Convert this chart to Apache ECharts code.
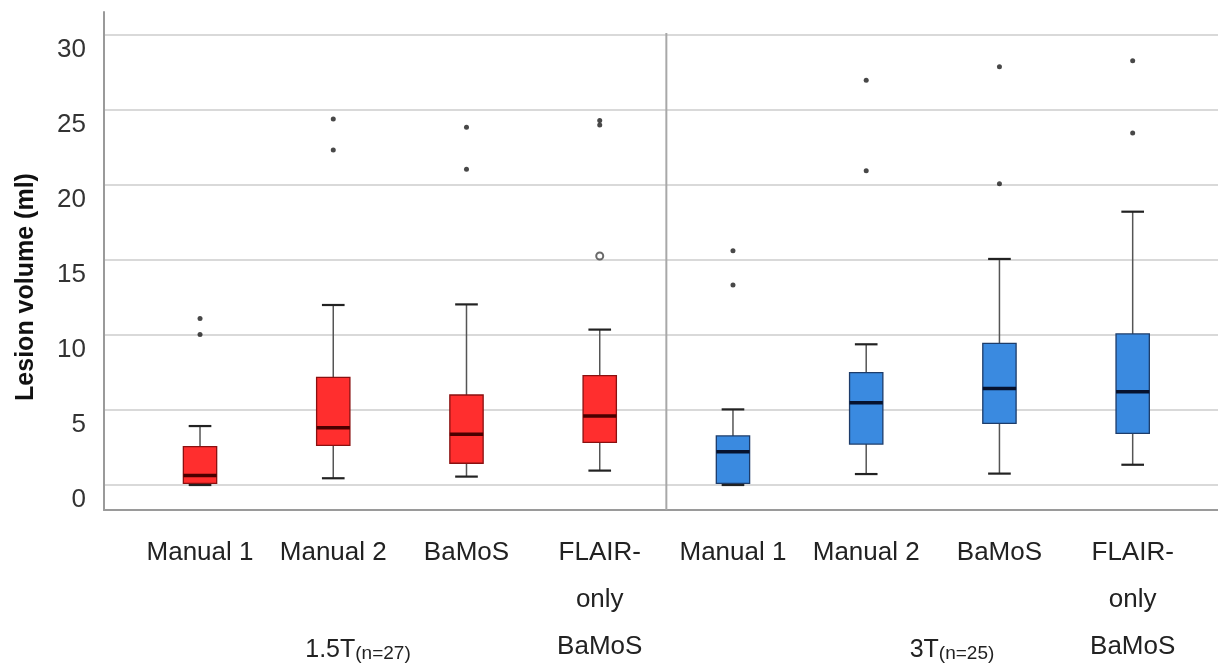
<!DOCTYPE html>
<html><head><meta charset="utf-8">
<script src="https://cdn.jsdelivr.net/npm/echarts@6/dist/echarts.min.js"></script>
<style>html,body{margin:0;padding:0;background:#fff}#c{width:1218px;height:663px}</style>
</head><body><div id="c"></div>
<script>
const categories = ['Manual 1','Manual 2','BaMoS','FLAIR-\nonly\nBaMoS','Manual 1','Manual 2','BaMoS','FLAIR-\nonly\nBaMoS'];
const yTicks = [0,5,10,15,20,25,30];
// [category index, min, Q1, median, Q3, max]
const boxes15T = [
  [0, 0.00, 0.11, 0.64, 2.56, 3.93],
  [1, 0.45, 2.64, 3.82, 7.18, 12.00],
  [2, 0.56, 1.45, 3.38, 6.00, 12.04],
  [3, 0.96, 2.84, 4.60, 7.29, 10.36]
];
const boxes3T = [
  [4, 0.00, 0.11, 2.22, 3.27, 5.04],
  [5, 0.73, 2.73, 5.49, 7.49, 9.38],
  [6, 0.76, 4.11, 6.44, 9.44, 15.07],
  [7, 1.35, 3.44, 6.22, 10.07, 18.22]
];
const extremes = [[0,11.1],[0,10.04],[1,24.4],[1,22.33],[2,23.85],[2,21.05],[3,24.3],[3,24.0],
  [4,15.62],[4,13.33],[5,26.98],[5,20.95],[6,27.89],[6,20.09],[7,28.29],[7,23.47]];
const outliers = [[3,15.27]];
const separatorAfter = [3];
const groupLabels = [['1.5T','(n=27)'],['3T','(n=25)']];
const yTitle = 'Lesion volume (ml)';

function makeRender(fill, stroke, medianColor){
  return function(params, api){
    const i = api.value(0);
    const pMin = api.coord([i, api.value(1)]);
    const pQ1 = api.coord([i, api.value(2)]);
    const pMed = api.coord([i, api.value(3)]);
    const pQ3 = api.coord([i, api.value(4)]);
    const pMax = api.coord([i, api.value(5)]);
    const band = api.size([1,0])[0];
    const bw = band*0.25, cw = band*0.17;
    const x = pMed[0];
    return {type:'group', children:[
      {type:'line', shape:{x1:x,y1:pQ3[1],x2:x,y2:pMax[1]}, style:{stroke:'#555',lineWidth:1.5}},
      {type:'line', shape:{x1:x,y1:pQ1[1],x2:x,y2:pMin[1]}, style:{stroke:'#555',lineWidth:1.5}},
      {type:'line', shape:{x1:x-cw/2,y1:pMax[1],x2:x+cw/2,y2:pMax[1]}, style:{stroke:'#222',lineWidth:2.2}},
      {type:'line', shape:{x1:x-cw/2,y1:pMin[1],x2:x+cw/2,y2:pMin[1]}, style:{stroke:'#222',lineWidth:2.2}},
      {type:'rect', shape:{x:x-bw/2,y:pQ3[1],width:bw,height:pQ1[1]-pQ3[1]}, style:{fill:fill, stroke:stroke, lineWidth:1.3}},
      {type:'line', shape:{x1:x-bw/2,y1:pMed[1],x2:x+bw/2,y2:pMed[1]}, style:{stroke:medianColor,lineWidth:3.5}}
    ]};
  };
}

function renderSeparator(params, api){
  const i = api.value(0);
  const a = api.coord([i, 0])[0];
  const b = api.coord([i + 1, 0])[0];
  const x = (a + b) / 2;
  const cs = params.coordSys;
  return {type:'line', shape:{x1:x, y1:cs.y, x2:x, y2:cs.y + cs.height}, style:{stroke:'#a8a8a8', lineWidth:2}};
}

const chart = echarts.init(document.getElementById('c'));
chart.setOption({
  animation:false,
  backgroundColor:'#fff',
  textStyle:{fontFamily:'Liberation Sans, Arial, sans-serif'},
  grid:[
    {left:104, right:0, top:12, bottom:153, containLabel:false, outerBoundsMode:'none'},
    {left:133.4, right:18.7, top:33, bottom:153, containLabel:false, outerBoundsMode:'none'}
  ],
  xAxis:[
    {gridIndex:0, type:'value', min:0, max:1,
      axisLine:{show:true,onZero:false,lineStyle:{color:'#9a9a9a',width:2}},
      axisTick:{show:false}, axisLabel:{show:false}, splitLine:{show:false}},
    {gridIndex:1, type:'category', data:categories,
      axisLine:{show:false}, axisTick:{show:false},
      axisLabel:{interval:0, fontSize:26, color:'#222', lineHeight:47, margin:19},
      splitLine:{show:false}}
  ],
  yAxis:[
    {gridIndex:0, type:'value', min:-5/3, max:31.5333,
      axisLine:{show:true,onZero:false,lineStyle:{color:'#9a9a9a',width:2}},
      axisTick:{show:false, customValues:yTicks},
      axisLabel:{customValues:yTicks, fontSize:26, color:'#333', margin:18, verticalAlign:'top', lineHeight:30},
      splitLine:{show:true, lineStyle:{color:'#d9d9d9', width:2}}},
    {gridIndex:1, type:'value', min:-5/3, max:30.1333, show:false, splitLine:{show:false}}
  ],
  graphic:[
    {type:'text', x:26, y:287, rotation:Math.PI/2,
      style:{text:yTitle, align:'center', verticalAlign:'middle', font:'bold 25px "Liberation Sans", Arial, sans-serif', fill:'#111'}},
    {type:'text', x:358, y:648,
      style:{text:'{a|'+groupLabels[0][0]+'}{b|'+groupLabels[0][1]+'}', align:'center', verticalAlign:'middle',
        rich:{a:{fontSize:25,fontFamily:'Liberation Sans',fill:'#222',lineHeight:30,verticalAlign:'bottom'},
              b:{fontSize:19,fontFamily:'Liberation Sans',fill:'#222',lineHeight:30,verticalAlign:'bottom'}}}},
    {type:'text', x:952, y:648,
      style:{text:'{a|'+groupLabels[1][0]+'}{b|'+groupLabels[1][1]+'}', align:'center', verticalAlign:'middle',
        rich:{a:{fontSize:25,fontFamily:'Liberation Sans',fill:'#222',lineHeight:30,verticalAlign:'bottom'},
              b:{fontSize:19,fontFamily:'Liberation Sans',fill:'#222',lineHeight:30,verticalAlign:'bottom'}}}}
  ],
  series:[
    {type:'custom', name:'separator', xAxisIndex:1, yAxisIndex:1, data:separatorAfter.map(function(v){return [v];}),
      encode:{x:0}, renderItem:renderSeparator, silent:true, z:1},
    {type:'custom', name:'1.5T', xAxisIndex:1, yAxisIndex:1, data:boxes15T,
      encode:{x:0, y:[1,2,3,4,5]}, renderItem:makeRender('#ff2e2e','#8a1010','#4a0000')},
    {type:'custom', name:'3T', xAxisIndex:1, yAxisIndex:1, data:boxes3T,
      encode:{x:0, y:[1,2,3,4,5]}, renderItem:makeRender('#3a8ae0','#1d3c6a','#06122e')},
    {type:'scatter', name:'extreme', xAxisIndex:1, yAxisIndex:1, data:extremes,
      symbol:'circle', symbolSize:5, itemStyle:{color:'#1a1a1a'}},
    {type:'scatter', name:'outlier', xAxisIndex:1, yAxisIndex:1, data:outliers,
      symbol:'emptyCircle', symbolSize:7, itemStyle:{color:'#444', borderColor:'#444', borderWidth:1.3}}
  ]
});
</script>
</body></html>
